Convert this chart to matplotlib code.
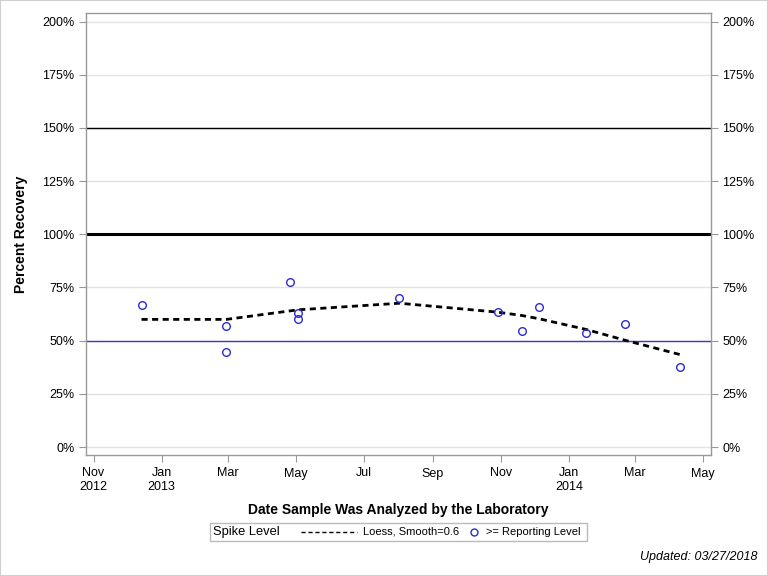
import numpy as np
import pandas as pd
import matplotlib
matplotlib.use('Agg')
import matplotlib.pyplot as plt
from matplotlib.patches import Rectangle
from matplotlib.lines import Line2D

plt.rcParams['font.family'] = ['Liberation Sans', 'DejaVu Sans']

# sample dates and percent recovery (>= reporting level)
sample_dates = ['2012-12-14', '2013-02-28', '2013-02-28', '2013-04-26', '2013-05-03',
                '2013-05-03', '2013-08-02', '2013-10-29', '2013-11-20', '2013-12-05',
                '2014-01-16', '2014-02-20', '2014-04-10']
recovery = [67.0, 57.0, 44.8, 77.6, 62.9, 60.3, 70.1, 63.6, 54.7, 65.6, 53.7, 57.9, 37.8]

# loess fit (smooth=0.6)
loess_dates = ['2012-12-14', '2013-02-28', '2013-04-26', '2013-05-03', '2013-08-02',
               '2013-10-29', '2013-11-20', '2013-12-05', '2014-01-16', '2014-02-20',
               '2014-04-10']
loess_vals = [60.0, 60.0, 64.0, 64.5, 67.6, 63.4, 61.8, 60.3, 55.3, 50.2, 43.5]

tick_dates = ['2012-11-01', '2013-01-01', '2013-03-01', '2013-05-01', '2013-07-01',
              '2013-09-01', '2013-11-01', '2014-01-01', '2014-03-01', '2014-05-01']
tick_labels = ['Nov\n2012', 'Jan\n2013', 'Mar', 'May', 'Jul', 'Sep', 'Nov',
               'Jan\n2014', 'Mar', 'May']
y_ticks = [0, 25, 50, 75, 100, 125, 150, 175, 200]

W, H = 768, 576
fig = plt.figure(figsize=(W / 100, H / 100), dpi=100)
ax = fig.add_axes([85.7 / W, 1 - 455 / H, (711 - 85.7) / W, (455 - 13.3) / H])

x = pd.to_datetime(sample_dates)
xl = pd.to_datetime(loess_dates)

for v in y_ticks:
    ax.axhline(v, color='#e3e3e3', lw=1, zorder=0)
ax.axhline(150, color='black', lw=1, zorder=1)
ax.axhline(100, color='black', lw=2.2, zorder=1)
ax.axhline(50, color='#3a3ad0', lw=1, zorder=1)

ax.plot(xl, loess_vals, color='black', lw=2, linestyle=(0, (2.2, 1.6)), zorder=3)
ax.plot(x, recovery, linestyle='none', marker='o', markersize=5.5,
        markerfacecolor='none', markeredgecolor='#2b2bd0', markeredgewidth=1, zorder=4)

ax.set_ylim(-3.75, 203.9)
ax.set_xlim(pd.Timestamp('2012-10-25'), pd.Timestamp('2014-05-08'))
ax.set_yticks(y_ticks)
ax.set_yticklabels([f'{v}%' for v in y_ticks])
ax.set_xticks(pd.to_datetime(tick_dates))
ax.set_xticklabels(tick_labels, va='top')
ax.tick_params(axis='y', which='both', left=True, right=True, labelleft=True,
               labelright=True, length=5, color='#999999', labelsize=9, pad=3)
ax.tick_params(axis='x', length=5, color='#999999', labelsize=9, pad=4)
for s in ax.spines.values():
    s.set_color('#999999')
    s.set_linewidth(1)

ax.set_ylabel('Percent Recovery', fontsize=10, fontweight='bold', labelpad=10)
ax.set_xlabel('Date Sample Was Analyzed by the Laboratory', fontsize=10,
              fontweight='bold', labelpad=7)

# legend box, drawn by hand to keep the title inline
ly = 1 - 532 / H
fig.patches.append(Rectangle((210 / W, 1 - 541 / H), (587 - 210) / W, 18 / H,
                             transform=fig.transFigure, fill=False,
                             edgecolor='#bbbbbb', lw=1))
fig.text(213 / W, ly, 'Spike Level', fontsize=9.3, va='center', ha='left')
fig.lines.append(Line2D([301 / W, 357 / W], [ly, ly], transform=fig.transFigure,
                        color='black', lw=1, linestyle=(0, (3, 2))))
fig.text(363 / W, ly, 'Loess, Smooth=0.6', fontsize=8, va='center', ha='left')
fig.lines.append(Line2D([474 / W], [ly], transform=fig.transFigure, linestyle='none',
                        marker='o', markersize=5, markerfacecolor='none',
                        markeredgecolor='#2b2bd0'))
fig.text(486 / W, ly, '>= Reporting Level', fontsize=8, va='center', ha='left')

fig.text(757 / W, 1 - 557 / H, 'Updated: 03/27/2018', fontsize=9, style='italic',
         ha='right', va='center')

# outer border
fig.patches.append(Rectangle((0, 0), 1, 1, transform=fig.transFigure, fill=False,
                             edgecolor='#d0d0d0', lw=1.5))

fig.savefig('out.png', dpi=100)
